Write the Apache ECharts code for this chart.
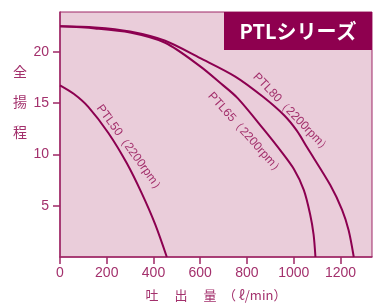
<!DOCTYPE html>
<html>
<head>
<meta charset="utf-8">
<script src="https://cdn.jsdelivr.net/npm/echarts@6/dist/echarts.min.js"></script>
<style>
  html, body { margin: 0; padding: 0; background: #fff; }
  #chart { width: 374px; height: 307px; }
</style>
</head>
<body>
<div id="chart"></div>
<script>
// PTLシリーズ 性能曲線
// 吐出量 (ℓ/min) と 全揚程 (m)

var ptl50Flow = [0, 60, 121, 207, 286, 350, 407, 457];
var ptl50Head = [16.75, 15.9, 14.65, 12.1, 9.14, 6.2, 3.2, 0];

var ptl65Flow = [0, 150, 300, 450, 600, 690, 760, 870, 943, 1000, 1043, 1070, 1085, 1093];
var ptl65Head = [22.5, 22.3, 21.9, 20.9, 18.6, 16.9, 15.5, 12.5, 10.4, 8.6, 6.55, 4.2, 2.2, 0];

var ptl80Flow = [0, 150, 300, 450, 600, 750, 870, 960, 1014, 1057, 1157, 1207, 1235, 1257];
var ptl80Head = [22.5, 22.4, 22.0, 21.1, 19.4, 17.6, 15.6, 13.8, 12.3, 10.7, 7.0, 4.6, 2.6, 0];

var xTicks = [0, 200, 400, 600, 800, 1000, 1200];
var yTicks = [5, 10, 15, 20];

var curveNames = ['PTL50（2200rpm）', 'PTL65（2200rpm）', 'PTL80（2200rpm）'];

var lineColor = '#8c0050';
var axisColor = '#9e2766';
var textColor = '#a3306c';

function pairs(xs, ys) {
	var out = [];
	for (var i = 0; i < xs.length; i++) {
		out.push([xs[i], ys[i]]);
	}
	return out;
}

function curve(name, xs, ys) {
	return {
		name : name,
		type : 'line',
		smooth : 0.3,
		symbol : 'none',
		silent : true,
		lineStyle : { color : lineColor, width : 2 },
		data : pairs(xs, ys)
	};
}

function curveLabel(text, x, y, deg) {
	return {
		type : 'text',
		x : x,
		y : y,
		rotation : -deg * Math.PI / 180,
		style : {
			text : text,
			fill : textColor,
			font : '12px "Liberation Sans", Arial, sans-serif',
			align : 'left',
			verticalAlign : 'middle'
		}
	};
}

var chart = echarts.init(document.getElementById('chart'), null, { renderer : 'canvas' });

var option = {
	animation : false,
	grid : {
		left : 60,
		top : 12,
		right : 2,
		bottom : 50,
		show : true,
		backgroundColor : '#eacdda',
		borderColor : axisColor,
		borderWidth : 1
	},
	xAxis : {
		type : 'value',
		min : 0,
		max : 1335,
		interval : 200,
		name : '吐　 出　 量　（ ℓ/min）',
		nameLocation : 'middle',
		nameGap : 32,
		nameTextStyle : {
			color : textColor,
			fontSize : 13,
			fontFamily : '"Noto Sans CJK JP", sans-serif'
		},
		axisLine : { lineStyle : { color : axisColor, width : 1.5 } },
		axisTick : {
			show : true,
			length : 7,
			customValues : xTicks,
			lineStyle : { color : axisColor, width : 1.5 }
		},
		axisLabel : {
			customValues : xTicks,
			margin : 9,
			color : textColor,
			fontSize : 14,
			fontFamily : '"Liberation Sans", Arial, sans-serif',
			formatter : function(v) {
				return String(v);
			}
		},
		splitLine : { show : false }
	},
	yAxis : {
		type : 'value',
		min : 0,
		max : 23.9,
		interval : 5,
		axisLine : { show : true, lineStyle : { color : axisColor, width : 1.5 } },
		axisTick : {
			show : true,
			length : 7,
			customValues : yTicks,
			lineStyle : { color : axisColor, width : 1.5 }
		},
		axisLabel : {
			customValues : yTicks,
			margin : 11,
			color : textColor,
			fontSize : 14,
			fontFamily : '"Liberation Sans", Arial, sans-serif'
		},
		splitLine : { show : false }
	},
	series : [
		curve(curveNames[0], ptl50Flow, ptl50Head),
		curve(curveNames[1], ptl65Flow, ptl65Head),
		curve(curveNames[2], ptl80Flow, ptl80Head)
	],
	graphic : [
		// タイトル枠
		{
			type : 'rect',
			shape : { x : 224, y : 12, width : 148, height : 38 },
			style : { fill : '#8e004f' },
			z : 10
		},
		{
			type : 'text',
			x : 298,
			y : 31,
			z : 11,
			style : {
				text : 'PTLシリーズ',
				fill : '#ffffff',
				font : 'bold 20px "Noto Sans CJK JP", sans-serif',
				align : 'center',
				verticalAlign : 'middle'
			}
		},
		// 縦軸名
		{
			type : 'text',
			x : 20,
			y : 102,
			style : {
				text : '全\n揚\n程',
				fill : textColor,
				font : '14px "Noto Sans CJK JP", sans-serif',
				lineHeight : 30,
				align : 'center',
				verticalAlign : 'middle'
			}
		},
		// 曲線ラベル
		curveLabel(curveNames[0], 99, 106, 54),
		curveLabel(curveNames[1], 210, 94, 48),
		curveLabel(curveNames[2], 255, 75, 46)
	]
};

chart.setOption(option);
</script>
</body>
</html>
